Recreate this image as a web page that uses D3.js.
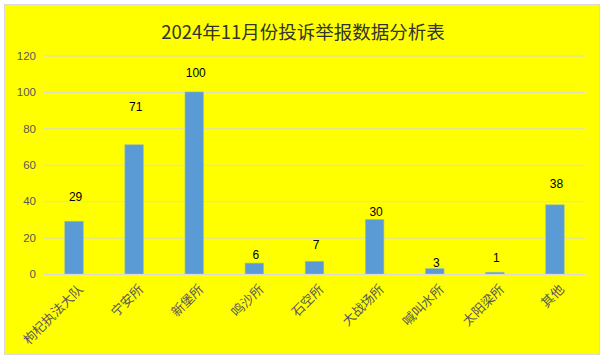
<!DOCTYPE html>
<html><head><meta charset="utf-8">
<script src="https://cdn.jsdelivr.net/npm/d3@7"></script>
<style>body{margin:0;background:#fff}</style>
</head><body>
<script>
const categories = ["枸杞执法大队","宁安所","新堡所","鸣沙所","石空所","大战场所","喊叫水所","太阳梁所","其他"];
const values = [29,71,100,6,7,30,3,1,38];
const yTicks = [0,20,40,60,80,100,120];
const title = "2024年11月份投诉举报数据分析表";

// label lift above bar top (style, px)
const labelLift = [24,38,19,8,16,7,5.5,14,21];

const W = 604, H = 359;
const svg = d3.select("body").append("svg").attr("width", W).attr("height", H);
svg.append("rect").attr("x",4.5).attr("y",4.5).attr("width",595).attr("height",350)
  .attr("fill","#ffff00").attr("stroke","#d9d9d9").attr("stroke-width",1);

const x = d3.scaleBand().domain(categories).range([44,585]).paddingInner(0.69).paddingOuter(0.345);
const y = d3.scaleLinear().domain([0,120]).range([274,55.5]);

svg.append("text").attr("x",303).attr("y",31).attr("text-anchor","middle").attr("dominant-baseline","central")
  .attr("font-family","'Noto Sans CJK SC', sans-serif").attr("font-size",18.5).attr("fill","#333")
  .text(title);

const yAxis = svg.append("g").attr("transform","translate(44,0)")
  .call(d3.axisLeft(y).tickValues(yTicks).tickSize(-541).tickPadding(8));
yAxis.select(".domain").remove();
yAxis.selectAll(".tick line").attr("stroke","#d9d9d9").attr("stroke-width",1);
yAxis.selectAll(".tick text").attr("fill","#595959").attr("font-size",11.5)
  .attr("font-family","'Liberation Sans', Arial, sans-serif");

svg.append("g").selectAll("rect").data(values).join("rect")
  .attr("x",(d,i)=>x(categories[i])).attr("width",x.bandwidth())
  .attr("y",d=>y(d)).attr("height",d=>y(0)-y(d))
  .attr("fill","#5b9bd5").attr("stroke","#a9c4a0").attr("stroke-width",0.6);

svg.append("line").attr("x1",44).attr("x2",585).attr("y1",y(0)+0.5).attr("y2",y(0)+0.5)
  .attr("stroke","#d9d9d9").attr("stroke-width",1.2);

svg.append("g").selectAll("text").data(values).join("text")
  .attr("x",(d,i)=>x(categories[i])+x.bandwidth()/2+1.5)
  .attr("y",(d,i)=>y(d)-labelLift[i])
  .attr("text-anchor","middle").attr("dominant-baseline","central")
  .attr("font-family","'Liberation Sans', Arial, sans-serif").attr("font-size",12).attr("fill","#000")
  .text(d=>d);

svg.append("g").selectAll("text").data(categories).join("text")
  .attr("transform",d=>`translate(${x(d)+x.bandwidth()/2+10},${y(0)+16}) rotate(-45)`)
  .attr("text-anchor","end")
  .attr("font-family","'Noto Sans CJK SC', sans-serif").attr("font-size",13).attr("fill","#595959")
  .text(d=>d);
</script>
</body></html>
